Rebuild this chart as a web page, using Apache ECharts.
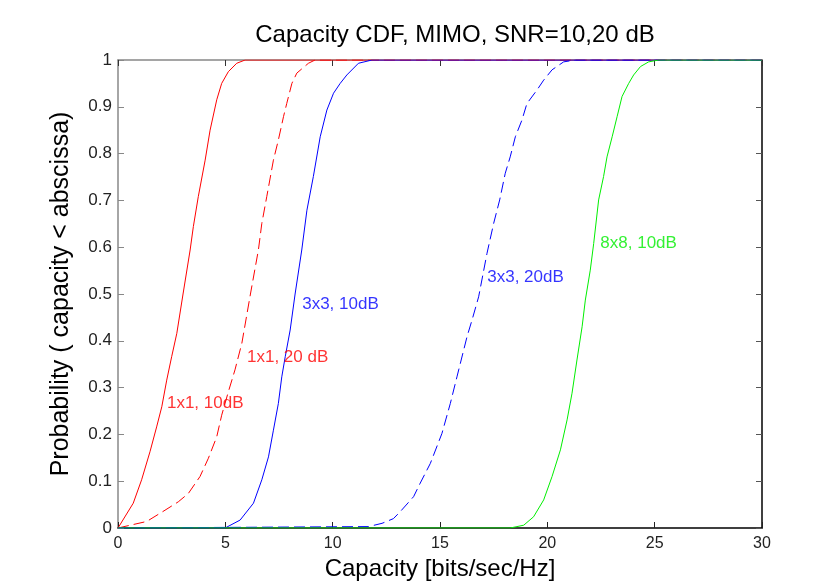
<!DOCTYPE html>
<html>
<head>
<meta charset="utf-8">
<script src="https://cdn.jsdelivr.net/npm/echarts@6/dist/echarts.min.js"></script>
<style>
  html, body { margin: 0; padding: 0; background: #fff; }
  #chart { width: 827px; height: 588px; }
</style>
</head>
<body>
<div id="chart"></div>
<script>
// capacity CDF curves (x = bits/sec/Hz, y = probability)
const cap1x1_10 = [0, 0.71, 1.1, 1.49, 1.8, 2.04, 2.27, 2.5, 2.74, 3.03, 3.36, 3.51, 3.74, 4.06, 4.29, 4.6, 4.83, 5.14, 5.53, 5.92, 30];
const prob1x1_10 = [0, 0.053, 0.103, 0.163, 0.216, 0.259, 0.316, 0.366, 0.416, 0.5, 0.594, 0.644, 0.708, 0.786, 0.85, 0.915, 0.95, 0.975, 0.993, 1, 1];

const cap1x1_20 = [0, 1.34, 2.19, 2.81, 3.28, 3.82, 4.21, 4.6, 4.83, 5.14, 5.45, 5.77, 6.17, 6.54, 6.7, 6.93, 7.24, 7.47, 7.71, 7.86, 8.1, 8.33, 8.87, 9.18, 30];
const prob1x1_20 = [0, 0.014, 0.038, 0.056, 0.074, 0.11, 0.149, 0.195, 0.241, 0.291, 0.338, 0.395, 0.5, 0.594, 0.651, 0.708, 0.786, 0.829, 0.879, 0.907, 0.95, 0.972, 0.993, 1, 1];

const cap3x3_10 = [0, 4.99, 5.69, 6.31, 6.7, 7.01, 7.24, 7.47, 7.63, 7.79, 8.02, 8.25, 8.56, 8.8, 9.1, 9.42, 9.73, 10.04, 10.35, 10.66, 11.2, 11.83, 30];
const prob3x3_10 = [0, 0, 0.017, 0.053, 0.103, 0.152, 0.209, 0.266, 0.323, 0.366, 0.423, 0.5, 0.594, 0.679, 0.751, 0.836, 0.893, 0.929, 0.95, 0.968, 0.993, 1, 1];

const cap3x3_20 = [0, 11.67, 12.3, 12.83, 13.15, 13.77, 14.08, 14.55, 15.09, 15.48, 15.79, 16.26, 16.49, 16.8, 17.19, 17.5, 17.78, 18.04, 18.27, 18.51, 18.82, 19.05, 19.52, 19.83, 20.22, 20.76, 21.31, 30];
const prob3x3_20 = [0, 0.003, 0.01, 0.02, 0.035, 0.067, 0.096, 0.138, 0.202, 0.266, 0.323, 0.409, 0.444, 0.494, 0.587, 0.651, 0.701, 0.758, 0.793, 0.836, 0.872, 0.907, 0.936, 0.957, 0.979, 0.996, 1, 1];

const cap8x8_10 = [0, 18.27, 18.9, 19.36, 19.83, 20.22, 20.61, 20.92, 21.15, 21.38, 21.62, 21.77, 22.0, 22.16, 22.39, 22.62, 22.78, 23.02, 23.25, 23.48, 23.79, 24.02, 24.34, 24.72, 25.19, 30];
const prob8x8_10 = [0, 0, 0.006, 0.024, 0.06, 0.11, 0.167, 0.231, 0.288, 0.359, 0.43, 0.487, 0.551, 0.608, 0.701, 0.751, 0.793, 0.836, 0.879, 0.922, 0.95, 0.968, 0.986, 0.996, 1, 1];

// in-plot annotations (left edge of text, vertical centre)
const noteTexts = ['1x1, 10dB', '1x1, 20 dB', '3x3, 10dB', '3x3, 20dB', '8x8, 10dB'];
const noteX = [2.28, 6.01, 8.58, 17.2, 22.47];
const noteY = [0.267, 0.365, 0.479, 0.536, 0.609];

const xTicks = [0, 5, 10, 15, 20, 25, 30];

const FONT = "'Liberation Sans', Arial, sans-serif";
const RED = '#ff0000', BLUE = '#0000ff', GREEN = '#00ee00';

const zip = (xs, ys) => xs.map((x, i) => [x, ys[i]]);

const curves = [
  { name: '1x1, 10dB', xs: cap1x1_10, ys: prob1x1_10, color: RED, dash: 'solid' },
  { name: '1x1, 20dB', xs: cap1x1_20, ys: prob1x1_20, color: RED, dash: [11, 5] },
  { name: '3x3, 10dB', xs: cap3x3_10, ys: prob3x3_10, color: BLUE, dash: 'solid' },
  { name: '3x3, 20dB', xs: cap3x3_20, ys: prob3x3_20, color: BLUE, dash: [11, 5] },
  { name: '8x8, 10dB', xs: cap8x8_10, ys: prob8x8_10, color: GREEN, dash: 'solid' }
];
const noteColors = [RED, RED, BLUE, BLUE, GREEN];

const chart = echarts.init(document.getElementById('chart'));

const lineSeries = curves.map(c => ({
  name: c.name,
  type: 'line',
  data: zip(c.xs, c.ys),
  showSymbol: false,
  symbol: 'none',
  smooth: false,
  lineStyle: { color: c.color, width: 1, type: c.dash },
  z: 3
}));

const noteSeries = {
  type: 'scatter',
  symbolSize: 0,
  silent: true,
  data: noteTexts.map((t, i) => ({
    value: [noteX[i], noteY[i]],
    label: { formatter: t, color: noteColors[i] }
  })),
  label: {
    show: true,
    position: 'right',
    distance: 0,
    fontFamily: FONT,
    fontSize: 17,
    verticalAlign: 'middle'
  },
  z: 4
};

chart.setOption({
  animation: false,
  backgroundColor: '#fff',
  title: {
    text: 'Capacity CDF, MIMO, SNR=10,20 dB',
    left: 450,
    textAlign: 'center',
    top: 18,
    textStyle: { fontFamily: FONT, fontSize: 24, fontWeight: 'normal', color: '#000' }
  },
  grid: { left: 118, right: 65, top: 60, bottom: 60 },
  xAxis: [
    {
      type: 'value', min: 0, max: 30, interval: 5, position: 'bottom',
      name: 'Capacity [bits/sec/Hz]', nameLocation: 'middle', nameGap: 27,
      nameTextStyle: { fontFamily: FONT, fontSize: 24, color: '#000' },
      axisLine: { onZero: false, lineStyle: { color: '#000', width: 1.5 } },
      axisTick: { inside: true, length: 6, lineStyle: { color: '#222' } },
      axisLabel: { fontFamily: FONT, fontSize: 16, color: '#222', margin: 8,
        formatter: v => xTicks.includes(v) ? String(v) : '' },
      splitLine: { show: false }
    },
    {
      type: 'value', min: 0, max: 30, interval: 5, position: 'top',
      axisLine: { onZero: false, lineStyle: { color: '#888', width: 1.5 } },
      axisTick: { inside: true, length: 6, lineStyle: { color: '#333' } },
      axisLabel: { show: false },
      splitLine: { show: false }
    }
  ],
  yAxis: [
    {
      type: 'value', min: 0, max: 1, interval: 0.1, position: 'left',
      name: 'Probability ( capacity < abscissa)', nameLocation: 'middle', nameGap: 44,
      nameTextStyle: { fontFamily: FONT, fontSize: 25, color: '#000' },
      axisLine: { onZero: false, lineStyle: { color: '#888', width: 1.5 } },
      axisTick: { inside: true, length: 6, lineStyle: { color: '#888' } },
      axisLabel: { fontFamily: FONT, fontSize: 17, color: '#222', margin: 6 },
      splitLine: { show: false }
    },
    {
      type: 'value', min: 0, max: 1, interval: 0.1, position: 'right',
      axisLine: { onZero: false, lineStyle: { color: '#000', width: 1.5 } },
      axisTick: { inside: true, length: 6, lineStyle: { color: '#555' } },
      axisLabel: { show: false },
      splitLine: { show: false }
    }
  ],
  series: [...lineSeries, noteSeries]
});
</script>
</body>
</html>
